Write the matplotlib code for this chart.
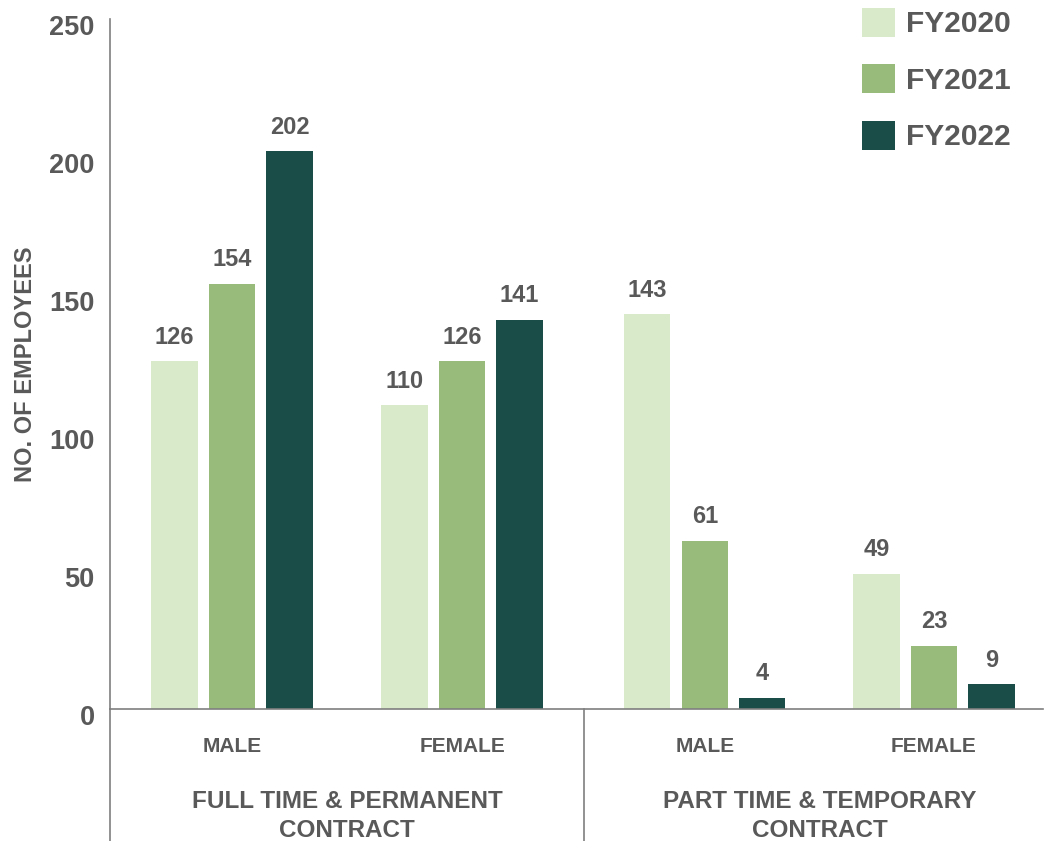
import matplotlib
matplotlib.use("Agg")
import matplotlib.pyplot as plt
import matplotlib.transforms as mtransforms
from matplotlib.patches import Patch

categories = ["MALE", "FEMALE", "MALE", "FEMALE"]
groups = ["FULL TIME & PERMANENT\nCONTRACT", "PART TIME & TEMPORARY\nCONTRACT"]
series = ["FY2020", "FY2021", "FY2022"]
fy2020 = [126, 110, 143, 49]
fy2021 = [154, 126, 61, 23]
fy2022 = [202, 141, 4, 9]
yticks = [0, 50, 100, 150, 200, 250]

colors = ["#d9eaca", "#98bb7b", "#1a4d48"]
text_color = "#595959"
line_color = "#7f7f7f"
font = "Liberation Sans"

cat_pos = [0.0, 0.983, 2.021, 3.0]
group_pos = [(cat_pos[0] + cat_pos[1]) / 2, (cat_pos[2] + cat_pos[3]) / 2]
sep_x = 1.504
width = 0.197
offset = 0.2457

fig = plt.figure(figsize=(10.48, 8.41), dpi=100)
ax = fig.add_axes([110 / 1048, 1 - 709 / 841, (1043 - 110) / 1048, (709 - 19) / 841])

for i, (vals, col) in enumerate(zip([fy2020, fy2021, fy2022], colors)):
    xs = [p + (i - 1) * offset for p in cat_pos]
    bars = ax.bar(xs, vals, width=width, color=col, label=series[i], zorder=2)
    for b, v in zip(bars, vals):
        ax.annotate(str(v), (b.get_x() + b.get_width() / 2, v), xytext=(0, 9),
                    textcoords="offset points", ha="center", va="bottom",
                    fontsize=17, fontweight="bold", color=text_color, family=font)

ax.set_xlim(-0.5214, 3.466)
ax.set_ylim(0, 250)
ax.set_yticks(yticks)
ax.set_yticklabels([str(t) for t in yticks], fontsize=19.5, fontweight="bold",
                   color=text_color, family=font)
ax.tick_params(axis="y", length=0, pad=11)
shift = mtransforms.ScaledTranslation(0, -6 / 100, fig.dpi_scale_trans)
for lab in ax.get_yticklabels():
    lab.set_transform(lab.get_transform() + shift)
ax.set_xticks([])
for s in ["top", "right"]:
    ax.spines[s].set_visible(False)
ax.spines["left"].set_color(line_color)
ax.spines["bottom"].set_color(line_color)
ax.spines["left"].set_linewidth(1.2)
ax.spines["bottom"].set_linewidth(1.2)

ax.set_ylabel("NO. OF EMPLOYEES", fontsize=17, fontweight="bold", color=text_color,
              family=font, labelpad=9)

# category labels
trans = ax.get_xaxis_transform()
bottom_ax = -(841 - 709) / 690
for p, c in zip(cat_pos, categories):
    ax.text(p, -(746 - 709) / 690, c, transform=trans, ha="center", va="center",
            fontsize=15, fontweight="bold", color=text_color, family=font)
for p, g in zip(group_pos, groups):
    ax.text(p, -(816 - 709) / 690, g, transform=trans, ha="center", va="center",
            fontsize=17.5, fontweight="bold", color=text_color, family=font,
            linespacing=1.35)

ax.plot([-0.5214, -0.5214], [0, bottom_ax], transform=trans, color=line_color,
        lw=1.2, clip_on=False)
ax.plot([sep_x, sep_x], [0, bottom_ax], transform=trans, color=line_color,
        lw=1.2, clip_on=False)

handles = [Patch(facecolor=c, edgecolor="none", label=s) for c, s in zip(colors, series)]
leg = fig.legend(handles=handles, loc="upper left", bbox_to_anchor=(862 / 1048, 1 - 8 / 841),
                 frameon=False, prop={"family": font, "weight": "bold", "size": 21.5},
                 handlelength=1.1, handleheight=1.1, handletextpad=0.36,
                 labelspacing=0.87, borderpad=0.0, borderaxespad=0.0)
for t in leg.get_texts():
    t.set_color(text_color)

fig.savefig("out.png", dpi=100)
